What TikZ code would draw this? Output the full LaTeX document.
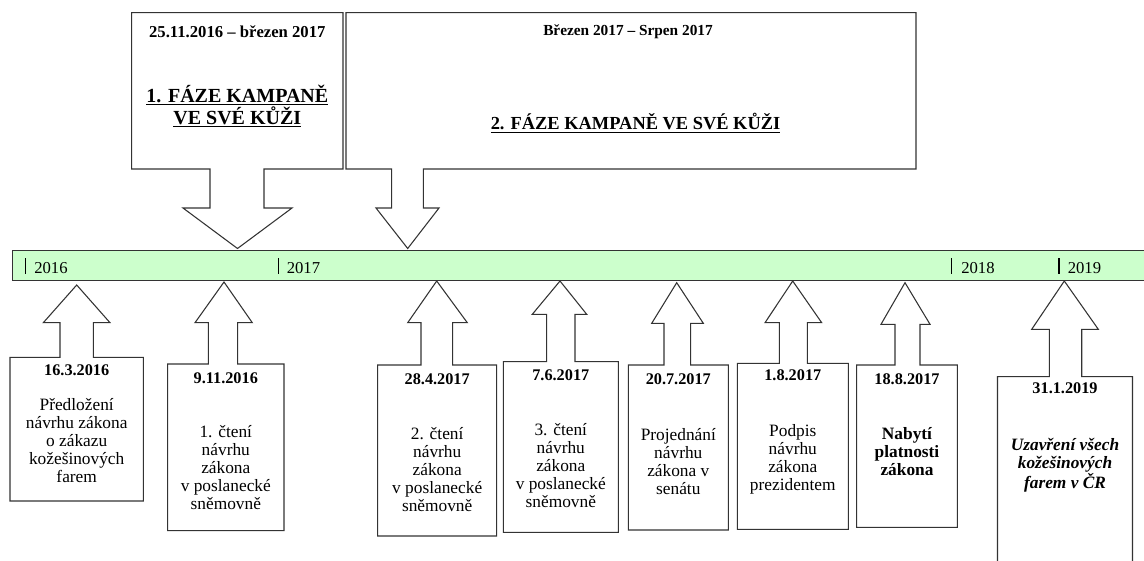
\documentclass[tikz,border=0pt]{standalone}
\usepackage{fontspec}
\setmainfont{Liberation Serif}
\definecolor{barGreen}{HTML}{CCFFCC}
\definecolor{lineGray}{HTML}{333333}
\begin{document}
\begin{tikzpicture}[x=0.75pt,y=-0.75pt,
  shapeline/.style={draw=lineGray,line width=0.8pt,fill=white,line join=miter},
  datetxt/.style={inner sep=0pt,font=\bfseries\fontsize{12.2}{13.5}\selectfont},
  bodytxt/.style={inner sep=0pt,align=center,font=\fontsize{13}{13.5}\selectfont},
  yeartxt/.style={inner sep=0pt,anchor=base west,font=\fontsize{12.5}{13.5}\selectfont},
  tickline/.style={draw=black,line width=0.8pt}]
\useasboundingbox (0,0) rectangle (1144,560);
\clip (0,0) rectangle (1144,560);

% timeline bar
\draw[draw=lineGray,line width=0.9pt,fill=barGreen] (12.3,250.7) rectangle (1160,280.7);
\coordinate (t16) at (25.7,258); \coordinate (t16b) at (25.7,274);
\coordinate (t17) at (278.3,258); \coordinate (t17b) at (278.3,274);
\coordinate (t18) at (951.7,258); \coordinate (t18b) at (951.7,274);
\coordinate (t19) at (1059,258); \coordinate (t19b) at (1059,274);
\draw[tickline] (t16) -- (t16b);
\draw[tickline] (t17) -- (t17b);
\draw[tickline] (t18) -- (t18b);
\draw[tickline] (t19) -- (t19b);
\node[yeartxt] (y16) at (34,273) {2016};
\node[yeartxt] (y17) at (286.5,273) {2017};
\node[yeartxt] (y18) at (961,273) {2018};
\node[yeartxt] (y19) at (1067.5,273) {2019};

% top callout 1
\draw[shapeline] (131.7,12.7) -- (343,12.7) -- (343,169) -- (264,169) -- (264,208) -- (292,208)
  -- (237.5,248.5) -- (183,208) -- (210,208) -- (210,169) -- (131.7,169) -- cycle;
\node[inner sep=0pt,font=\bfseries\fontsize{12.5}{14}\selectfont] (d1) at (237.3,31.7) {25.11.2016 – březen 2017};
\node[inner sep=0pt,align=center,font=\bfseries\fontsize{15}{16.5}\selectfont] (t1) at (237.3,106)
  {\underline{1. FÁZE KAMPANĚ}\\\underline{VE SVÉ KŮŽI}};

% top callout 2
\draw[shapeline] (346,12.7) -- (916,12.7) -- (916,169) -- (423.3,169) -- (423.3,208) -- (439,208)
  -- (407.7,248.5) -- (376,208) -- (391.7,208) -- (391.7,169) -- (346,169) -- cycle;
\node[inner sep=0pt,font=\bfseries\fontsize{11.5}{13}\selectfont] (d2) at (628,31.7) {Březen 2017 – Srpen 2017};
\node[inner sep=0pt,font=\bfseries\fontsize{13.8}{15}\selectfont] (t2) at (635.5,123)
  {\underline{2. FÁZE KAMPANĚ VE SVÉ KŮŽI}};

% bottom callout 1
\draw[shapeline] (10,357.3) -- (60,357.3) -- (60,322.7) -- (43.3,322.7) -- (76.7,285) -- (110,322.7)
  -- (93.3,322.7) -- (93.3,357.3) -- (143.3,357.3) -- (143.3,501) -- (10,501) -- cycle;
\node[datetxt] (e1d) at (76.7,370) {16.3.2016};
\node[bodytxt] (e1b) at (76.7,440.7) {Předložení\\návrhu zákona\\o zákazu\\kožešinových\\farem};

% bottom callout 2
\draw[shapeline] (167.7,364) -- (208.3,364) -- (208.3,322.7) -- (195,322.7) -- (224,282) -- (252.3,322.7)
  -- (237.7,322.7) -- (237.7,364) -- (284,364) -- (284,530.7) -- (167.7,530.7) -- cycle;
\node[datetxt] (e2d) at (225.8,378.3) {9.11.2016};
\node[bodytxt] (e2b) at (225.8,468) {1. čtení\\návrhu\\zákona\\v poslanecké\\sněmovně};

% bottom callout 3
\draw[shapeline] (377.7,365) -- (421,365) -- (421,322.7) -- (407.7,322.7) -- (436.7,281) -- (467.3,322.7)
  -- (452.7,322.7) -- (452.7,365) -- (496.7,365) -- (496.7,536) -- (377.7,536) -- cycle;
\node[datetxt] (e3d) at (437.2,379.3) {28.4.2017};
\node[bodytxt] (e3b) at (437.2,470) {2. čtení\\návrhu\\zákona\\v poslanecké\\sněmovně};

% bottom callout 4
\draw[shapeline] (503.3,361.7) -- (546.7,361.7) -- (546.7,314.3) -- (532.3,314.3) -- (560,281) -- (586.7,314.3)
  -- (575,314.3) -- (575,361.7) -- (618.3,361.7) -- (618.3,532.3) -- (503.3,532.3) -- cycle;
\node[datetxt] (e4d) at (560.8,375.7) {7.6.2017};
\node[bodytxt] (e4b) at (560.8,465.7) {3. čtení\\návrhu\\zákona\\v poslanecké\\sněmovně};

% bottom callout 5
\draw[shapeline] (628.3,365) -- (664,365) -- (664,323.3) -- (651.7,323.3) -- (676.7,282.7) -- (703.3,323.3)
  -- (690.7,323.3) -- (690.7,365) -- (728.3,365) -- (728.3,530) -- (628.3,530) -- cycle;
\node[datetxt] (e5d) at (678.3,379.3) {20.7.2017};
\node[bodytxt] (e5b) at (678.3,462) {Projednání\\návrhu\\zákona v\\senátu};

% bottom callout 6
\draw[shapeline] (737.3,363.3) -- (779.3,363.3) -- (779.3,322.7) -- (765,322.7) -- (792.7,281) -- (821.7,322.7)
  -- (807.3,322.7) -- (807.3,363.3) -- (848.3,363.3) -- (848.3,529.3) -- (737.3,529.3) -- cycle;
\node[datetxt] (e6d) at (792.8,375.7) {1.8.2017};
\node[bodytxt] (e6b) at (792.8,459) {Podpis\\návrhu\\zákona\\prezidentem};

% bottom callout 7
\draw[shapeline] (856.7,365) -- (895,365) -- (895,324.3) -- (881,324.3) -- (905,282.7) -- (930,324.3)
  -- (920,324.3) -- (920,365) -- (957.3,365) -- (957.3,527.3) -- (856.7,527.3) -- cycle;
\node[datetxt] (e7d) at (907,379) {18.8.2017};
\node[bodytxt,font=\bfseries\fontsize{13}{13.5}\selectfont] (e7b) at (907,451.7) {Nabytí\\platnosti\\zákona};

% bottom callout 8
\draw[shapeline] (997.5,376.7) -- (1049.3,376.7) -- (1049.3,329.3) -- (1031.7,329.3) -- (1064.3,281) -- (1098.3,329.3)
  -- (1081.7,329.3) -- (1081.7,376.7) -- (1132.5,376.7) -- (1132.5,600) -- (997.5,600) -- cycle;
\node[datetxt] (e8d) at (1065,388.3) {31.1.2019};
\node[bodytxt,font=\bfseries\itshape\fontsize{13}{13.5}\selectfont] (e8b) at (1065,465) {Uzavření všech\\kožešinových\\farem v ČR};
\end{tikzpicture}
\end{document}
